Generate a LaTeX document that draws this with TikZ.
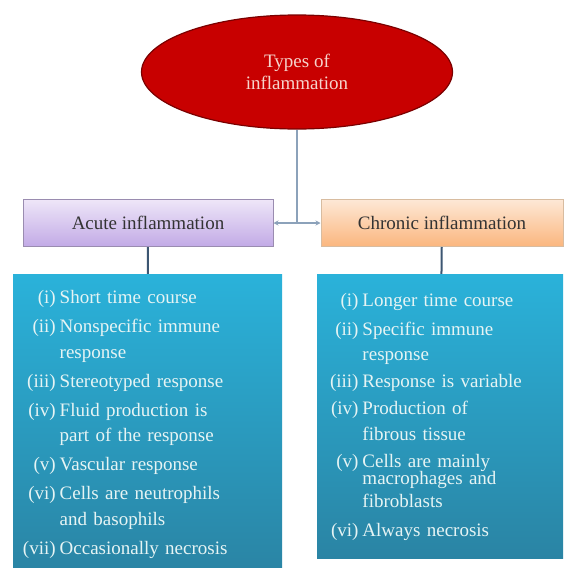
\documentclass[tikz,border=0pt]{standalone}
\usepackage{fontspec}
\setmainfont{Liberation Serif}
\usetikzlibrary{shapes.geometric,arrows.meta}
\definecolor{typesred}{HTML}{C80000}
\definecolor{typesrim}{HTML}{7A0000}
\definecolor{typestext}{HTML}{F6D4CC}
\definecolor{acutetop}{HTML}{EEE6F8}
\definecolor{acutebot}{HTML}{C2AAE6}
\definecolor{acuterim}{HTML}{9A8CB0}
\definecolor{chronictop}{HTML}{FDE8D6}
\definecolor{chronicbot}{HTML}{FBB67E}
\definecolor{chronicrim}{HTML}{D8BCA0}
\definecolor{listtop}{HTML}{2AB2DA}
\definecolor{listbot}{HTML}{2A84A4}
\definecolor{listtext}{HTML}{E6F4F4}
\definecolor{linkgray}{HTML}{8CA2BA}
\definecolor{stemblue}{HTML}{3C5672}
\begin{document}
\begin{tikzpicture}[x=1pt,y=-1pt, >={Stealth[length=5pt,width=5pt]},
  headbox/.style={draw=#1rim, line width=1pt, top color=#1top, bottom color=#1bot,
    minimum height=47pt, inner sep=0pt, text=black!80,
    font=\fontsize{19}{23}\selectfont},
  listbox/.style={top color=listtop, bottom color=listbot, text=listtext,
    align=left, inner ysep=0pt, font=\fontsize{19}{25.5}\selectfont},
  link/.style={draw=linkgray, line width=1.2pt},
  stem/.style={draw=stemblue, line width=2pt}]
\useasboundingbox (0,0) rectangle (563,568);
\node[ellipse, draw=typesrim, line width=1.2pt, fill=typesred, text=typestext,
  minimum width=311pt, minimum height=114pt, inner sep=0pt, align=center,
  font=\fontsize{19}{22}\selectfont] (types) at (297,72) {Types of\\inflammation};
\node[headbox=acute, minimum width=250pt] (acute) at (148,223) {Acute inflammation};
\node[headbox=chronic, minimum width=242pt] (chronic) at (442,223) {Chronic inflammation};
\node[listbox, text width=249pt, inner xsep=10pt, minimum height=300pt] (acutelist) at (147.5,424) {%
\begin{tabular}{@{}r@{\hspace{4pt}}l@{}}
(i) & Short time course\\[3.5pt]
(ii) & Nonspecific immune\\
 & response\\[3.5pt]
(iii) & Stereotyped response\\[3.5pt]
(iv) & Fluid production is\\
 & part of the response\\[3.5pt]
(v) & Vascular response\\[3.5pt]
(vi) & Cells are neutrophils\\
 & and basophils\\[3.5pt]
(vii) & Occasionally necrosis
\end{tabular}};
\node[listbox, text width=220pt, inner xsep=13pt, minimum height=284pt] (chroniclist) at (440,416) {%
\begin{tabular}{@{}r@{\hspace{4pt}}l@{}}
(i) & Longer time course\\[3.5pt]
(ii) & Specific immune\\
 & response\\[1.5pt]
(iii) & Response is variable\\[1.5pt]
(iv) & Production of\\
 & fibrous tissue\\[1.5pt]
(v) & Cells are mainly\\[-8pt]
 & macrophages and\\[-3pt]
 & fibroblasts\\[3.5pt]
(vi) & Always necrosis
\end{tabular}};
\coordinate (fork) at (297,223);
\draw[link] (types) -- (fork);
\draw[link,->] (fork) -- (acute);
\draw[link,->] (fork) -- (chronic);
\draw[stem] (acute) -- (acutelist);
\draw[stem] (chronic) -- (chroniclist);
\end{tikzpicture}
\end{document}
